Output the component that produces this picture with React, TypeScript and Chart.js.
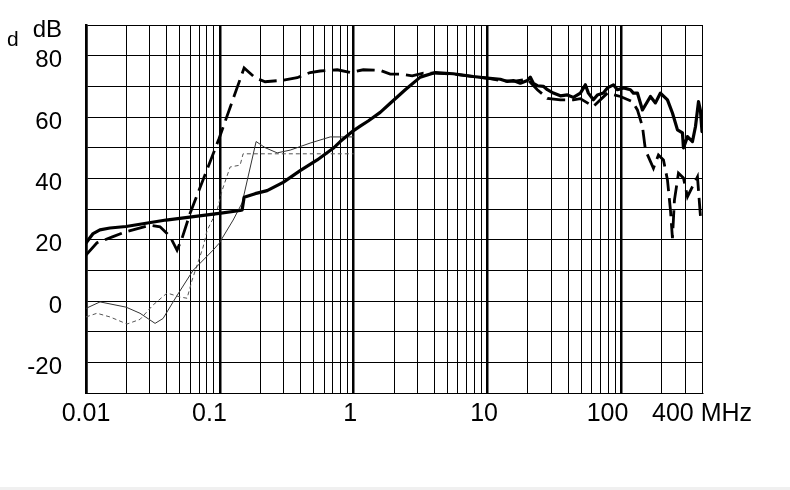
import React, { useEffect, useRef } from 'react';
import { Chart, registerables } from 'chart.js';

Chart.register(...registerables);

// ---- Data (frequency in MHz, level in dB) ----
const thickSolidFreq = [0.01, 0.0113, 0.0127, 0.0151, 0.0199, 0.0396, 0.0987, 0.1417, 0.1467, 0.1518, 0.1835, 0.2256, 0.2971, 0.398, 0.5336, 0.7026, 0.7929, 0.9915, 1.118, 1.283, 1.578, 1.875, 2.427, 3.142, 4.068, 5.545, 7.825, 9.957, 12.45, 14.05, 15.58, 17.57, 19.83, 20.88, 21.99, 23.55, 26.12, 27.98, 31.02, 34.99, 39.48, 43.77, 49.37, 53.8, 56.66, 61.75, 66.15, 73.36, 78.6, 87.14, 93.35, 103.5, 116.8, 122.9, 131.7, 143.6, 164.7, 179.6, 195.7, 220.8, 240.6, 262.3, 285.8, 290.8, 311.5, 339.5, 357.6, 376.6, 389.7, 400];
const thickSolidDb = [18.9, 22, 23.2, 23.8, 24.3, 26.4, 28.6, 29.5, 29.7, 33.8, 35, 36, 38.7, 42.5, 46, 49.8, 52, 55.5, 57, 58.7, 61.5, 64.5, 68.9, 73, 74.5, 74.1, 73.2, 72.7, 72.3, 71.6, 71.9, 71, 71.9, 73, 71, 70.2, 70, 68.9, 67.8, 66.9, 67.2, 66.4, 67.8, 70.5, 67.8, 65.6, 67.2, 67.8, 69.5, 70.5, 68.9, 69.5, 68.9, 67.8, 67.8, 62.3, 66.7, 64.6, 67.8, 65.6, 61.3, 55.8, 54.8, 49.9, 53.6, 52, 56.9, 65, 62, 55.2];

const thickDashFreq = [0.01, 0.01208, 0.01592, 0.01991, 0.03009, 0.03575, 0.04246, 0.04789, 0.05222, 0.05994, 0.07116, 0.0987, 0.1518, 0.1835, 0.2179, 0.2971, 0.3781, 0.4729, 0.5617, 0.7527, 0.9415, 1.178, 1.578, 1.875, 2.227, 2.737, 3.309, 4.068, 5.545, 7.825, 9.957, 12.45, 15.58, 19.83, 23.55, 27.98, 34.99, 43.77, 49.36, 61.75, 78.6, 98.3, 120.9, 131.7, 143.6, 151.2, 173.5, 189.1, 206.1, 220.8, 232.5, 240.6, 249, 262.3, 266.8, 290.8, 311.5, 339.5, 370, 389.7, 400];
const thickDashDb = [15, 19, 21, 22.6, 24.7, 24.2, 21, 16.6, 20.5, 28.6, 37, 53, 76, 72.8, 71.5, 72, 72.8, 74.5, 75, 75.4, 74.5, 75.4, 75.2, 74, 74, 73.4, 74.3, 74.3, 74, 73.2, 72.7, 71.9, 71.6, 72.3, 68.9, 66.1, 65.6, 65.6, 66, 63.4, 67.8, 66.7, 65, 62.3, 56.9, 49.2, 43.3, 47.6, 46, 39.5, 29.6, 20.5, 32.9, 39.5, 41.7, 40.1, 34, 37.3, 40.5, 27.5, 26];

const thinSolidFreq = [0.01, 0.01273, 0.01991, 0.02533, 0.03281, 0.03765, 0.04789, 0.0631, 0.08903, 0.0987, 0.1257, 0.1467, 0.1866, 0.2179, 0.268, 0.3352, 0.4729, 0.6674, 1.0];
const thinSolidDb = [-2.4, -0.3, -2, -4, -7.3, -5.7, 1.8, 10, 16.6, 18.8, 26.4, 32, 52, 50, 48.3, 49.2, 51.5, 53.5, 53.5];

const thinDashFreq = [0.01, 0.01208, 0.01511, 0.02025, 0.02533, 0.0317, 0.04034, 0.05046, 0.0569, 0.06203, 0.07497, 0.08031, 0.09537, 0.1039, 0.1193, 0.1417, 0.1492, 1.0];
const thinDashDb = [-5.2, -4, -5.2, -7.5, -6, -1.3, 2.6, 1.3, 0.9, 6.8, 17.6, 23, 29.6, 36, 43.7, 44.3, 48, 48];

// ---- Axis ticks / labels ----
const xGridValues = [0.01, 0.02, 0.03, 0.04, 0.05, 0.06, 0.07, 0.08, 0.09, 0.1, 0.2, 0.3, 0.4, 0.5, 0.6, 0.7, 0.8, 0.9, 1, 2, 3, 4, 5, 6, 7, 8, 9, 10, 20, 30, 40, 50, 60, 70, 80, 90, 100, 200, 300, 400];
const xDecades = [0.01, 0.1, 1, 10, 100];
const xLabelValues = [0.01, 0.1, 1, 10, 100, 400];
// trailing spaces reproduce the slightly left-shifted labels of the original
const xLabelTexts = ['0.01', '0.1   ', '1 ', '10 ', '100    ', '400 MHz'];

const yGridValues = [-30, -20, -10, 0, 10, 20, 30, 40, 50, 60, 70, 80, 90];
const yLabelValues = [-20, 0, 20, 40, 60, 80, 90];
const yLabelTexts = ['-20', '0', '20', '40', '60', '80', 'dB'];

const near = (a: number, b: number) => Math.abs(Math.log10(a) - Math.log10(b)) < 1e-6;

export default function App() {
  const ref = useRef<HTMLCanvasElement>(null);

  useEffect(() => {
    if (!ref.current) return;
    const pts = (f: number[], d: number[]) => f.map((x, i) => ({ x, y: d[i] }));
    const chart = new Chart(ref.current, {
      type: 'line',
      data: {
        datasets: [
          { data: pts(thickSolidFreq, thickSolidDb), borderColor: '#000', borderWidth: 3.2, borderJoinStyle: 'round', borderCapStyle: 'round' },
          { data: pts(thickDashFreq, thickDashDb), borderColor: '#000', borderWidth: 2.8, borderDash: [18, 7] },
          { data: pts(thinSolidFreq, thinSolidDb), borderColor: '#333', borderWidth: 1 },
          { data: pts(thinDashFreq, thinDashDb), borderColor: '#555', borderWidth: 1, borderDash: [4, 3] },
        ],
      },
      options: {
        animation: false,
        responsive: false,
        devicePixelRatio: 1,
        layout: { padding: { left: 0, right: 88, top: 25, bottom: 0 } },
        plugins: { legend: { display: false }, tooltip: { enabled: false } },
        elements: { point: { radius: 0 }, line: { tension: 0, fill: false } },
        scales: {
          x: {
            type: 'logarithmic',
            min: 0.01,
            max: 400,
            afterBuildTicks: (s: any) => {
              s.ticks = xGridValues.map((v) => ({ value: v }));
            },
            afterFit: (s: any) => {
              s.height = 97;
              s.paddingLeft = 0;
              s.paddingRight = 0;
            },
            grid: {
              color: '#000',
              drawTicks: false,
              lineWidth: (ctx: any) => (ctx.tick && xDecades.some((d) => near(d, ctx.tick.value)) ? 2.5 : 1),
            },
            border: { display: true, color: '#000', width: 1 },
            ticks: {
              autoSkip: false,
              maxRotation: 0,
              minRotation: 0,
              padding: 6,
              color: '#000',
              font: { family: '"Liberation Sans", Arial, sans-serif', size: 25 },
              callback: (v: any) => {
                const i = xLabelValues.findIndex((lv) => near(lv, Number(v)));
                return i >= 0 ? xLabelTexts[i] : '';
              },
            },
          },
          y: {
            type: 'linear',
            min: -30,
            max: 90,
            afterBuildTicks: (s: any) => {
              s.ticks = yGridValues.map((v) => ({ value: v }));
            },
            afterFit: (s: any) => {
              s.width = 86;
              s.paddingTop = 0;
              s.paddingBottom = 0;
            },
            grid: { color: '#000', drawTicks: false, lineWidth: 1 },
            border: { display: true, color: '#000', width: 2.5 },
            ticks: {
              autoSkip: false,
              padding: 24,
              labelOffset: 5,
              color: '#000',
              font: { family: '"Liberation Sans", Arial, sans-serif', size: 24 },
              callback: (v: any) => {
                const i = yLabelValues.indexOf(Number(v));
                return i >= 0 ? yLabelTexts[i] : '';
              },
            },
          },
        },
      },
    });
    return () => chart.destroy();
  }, []);

  return (
    <div style={{ position: 'fixed', left: 0, top: 0, width: 790, height: 490, background: '#fff', overflow: 'hidden' }}>
      <canvas ref={ref} width={790} height={490} style={{ position: 'absolute', left: 0, top: 0 }} />
      <div style={{ position: 'absolute', left: 7, top: 27, fontFamily: '"Liberation Sans", Arial, sans-serif', fontSize: 21, lineHeight: '24px', color: '#000' }}>d</div>
      <div style={{ position: 'absolute', left: 0, top: 487, width: 790, height: 3, background: '#f0f0f0' }} />
    </div>
  );
}
